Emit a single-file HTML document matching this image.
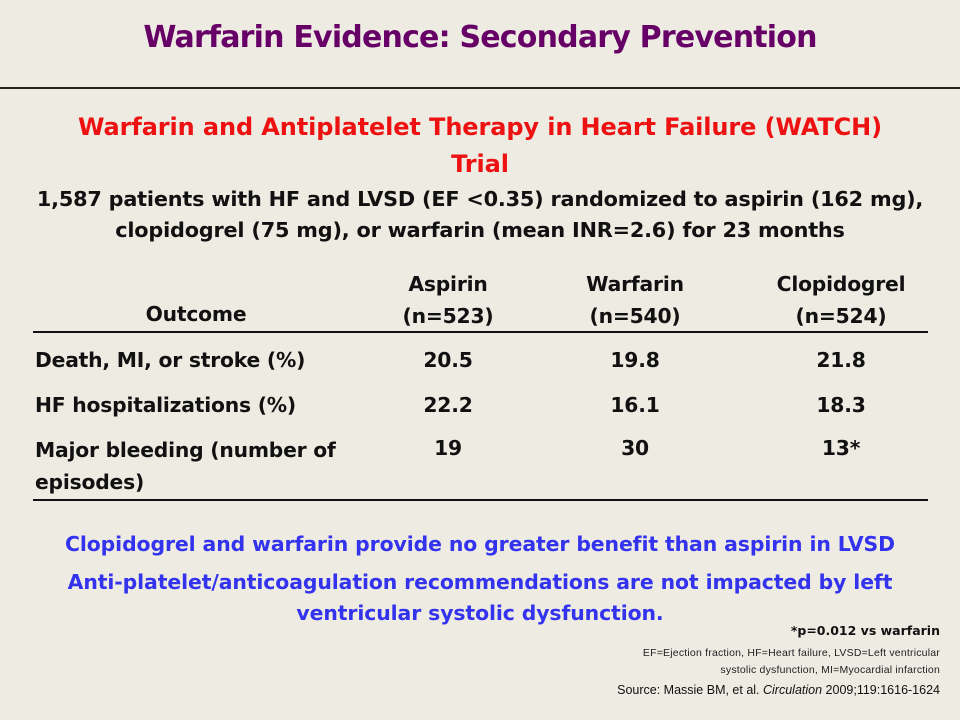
<!DOCTYPE html>
<html><head><meta charset="utf-8"><style>
body{margin:0;width:960px;height:720px;background:#eeebe3;position:relative;overflow:hidden;font-family:"DejaVu Sans","Liberation Sans",sans-serif;font-weight:bold}
div{position:absolute;white-space:nowrap}
.c{text-align:center}
.t{font-size:20.3px;color:#111;letter-spacing:-0.2px}
</style></head><body>
<div class="c" style="left:0;width:960px;top:20px;font-size:30px;color:#660066;letter-spacing:-0.8px">Warfarin Evidence: Secondary Prevention</div>
<div style="left:0;top:87px;width:960px;height:2px;background:#222"></div>
<div class="c" style="left:0;width:960px;top:109px;font-size:24px;line-height:37px;color:#ee1111;letter-spacing:-0.1px">Warfarin and Antiplatelet Therapy in Heart Failure (WATCH)<br>Trial</div>
<div class="c t" style="left:0;width:960px;top:184px;font-size:20.8px;line-height:31px">1,587 patients with HF and LVSD (EF &lt;0.35) randomized to aspirin (162 mg),<br>clopidogrel (75 mg), or warfarin (mean INR=2.6) for 23 months</div>
<div class="c t" style="left:96px;width:200px;top:302px">Outcome</div>
<div class="c t" style="left:348px;width:200px;top:268px;line-height:32px">Aspirin<br>(n=523)</div>
<div class="c t" style="left:535px;width:200px;top:268px;line-height:32px">Warfarin<br>(n=540)</div>
<div class="c t" style="left:741px;width:200px;top:268px;line-height:32px">Clopidogrel<br>(n=524)</div>
<div style="left:33px;top:331px;width:895px;height:2px;background:#111"></div>
<div class="t" style="left:35px;top:348px">Death, MI, or stroke (%)</div>
<div class="c t" style="left:348px;width:200px;top:348px">20.5</div>
<div class="c t" style="left:535px;width:200px;top:348px">19.8</div>
<div class="c t" style="left:741px;width:200px;top:348px">21.8</div>
<div class="t" style="left:35px;top:393px">HF hospitalizations (%)</div>
<div class="c t" style="left:348px;width:200px;top:393px">22.2</div>
<div class="c t" style="left:535px;width:200px;top:393px">16.1</div>
<div class="c t" style="left:741px;width:200px;top:393px">18.3</div>
<div class="t" style="left:35px;top:434px;line-height:32px">Major bleeding (number of<br>episodes)</div>
<div class="c t" style="left:348px;width:200px;top:436px">19</div>
<div class="c t" style="left:535px;width:200px;top:436px">30</div>
<div class="c t" style="left:741px;width:200px;top:436px">13*</div>
<div style="left:33px;top:499px;width:895px;height:2px;background:#111"></div>
<div class="c" style="left:0;width:960px;top:532px;font-size:20.4px;color:#3333ee;letter-spacing:-0.1px">Clopidogrel and warfarin provide no greater benefit than aspirin in LVSD</div>
<div class="c" style="left:0;width:960px;top:567px;font-size:20.4px;line-height:31px;color:#3333ee;letter-spacing:-0.1px">Anti-platelet/anticoagulation recommendations are not impacted by left<br>ventricular systolic dysfunction.</div>
<div style="right:20px;top:623px;font-size:12.5px;color:#111">*p=0.012 vs warfarin</div>
<div style="right:20px;top:645px;font-size:10.5px;line-height:17px;text-align:right;font-weight:normal;color:#222;font-family:'Liberation Sans',sans-serif;letter-spacing:0.2px">EF=Ejection fraction, HF=Heart failure, LVSD=Left ventricular<br>systolic dysfunction, MI=Myocardial infarction</div>
<div style="right:20px;top:683px;font-size:12.5px;font-weight:normal;color:#111;font-family:'Liberation Sans',sans-serif">Source: Massie BM, et al. <i>Circulation</i> 2009;119:1616-1624</div>
</body></html>
